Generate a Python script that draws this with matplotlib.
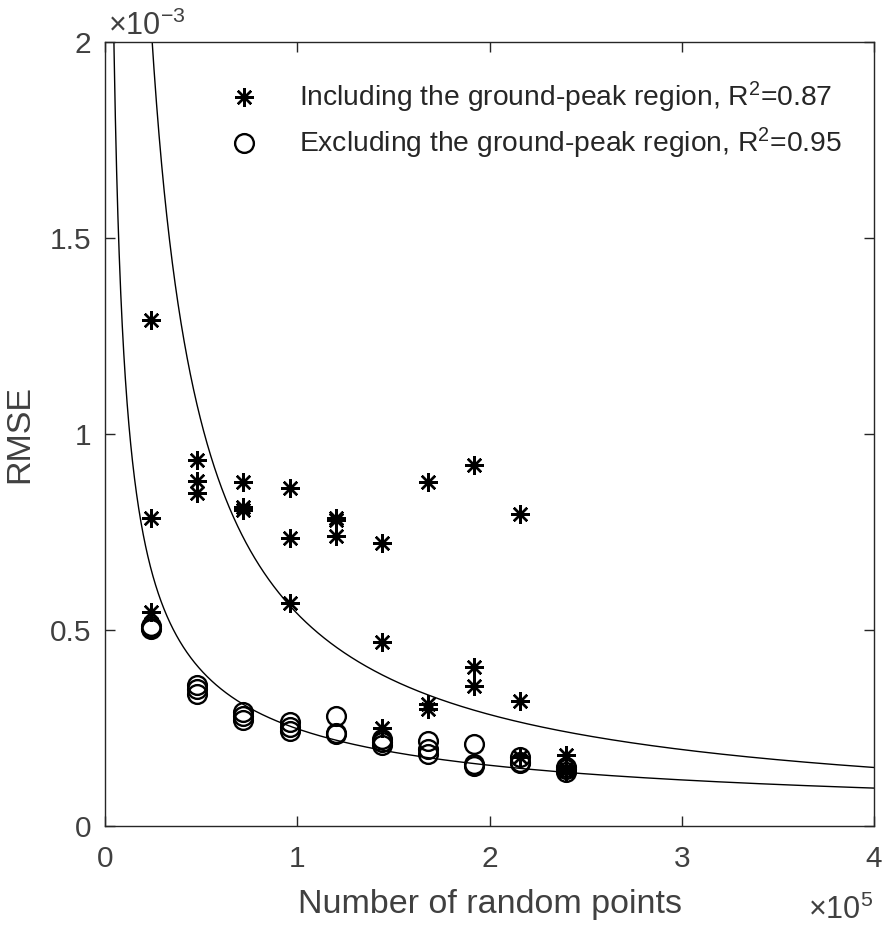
import numpy as np
import matplotlib
matplotlib.use('Agg')
import matplotlib.pyplot as plt

plt.rcParams['font.family'] = ['Liberation Sans', 'DejaVu Sans']
plt.rcParams['mathtext.fontset'] = 'custom'
plt.rcParams['mathtext.rm'] = 'Liberation Sans'
plt.rcParams['mathtext.it'] = 'Liberation Sans'

# number of random points (three runs each)
n_points = [24000, 48000, 72000, 96000, 120000, 144000, 168000, 192000, 216000, 240000]

# RMSE including the ground-peak region (x 1e-3)
rmse_incl = [
    [1.290, 0.785, 0.545],
    [0.935, 0.880, 0.850],
    [0.878, 0.814, 0.807],
    [0.862, 0.735, 0.570],
    [0.786, 0.781, 0.740],
    [0.723, 0.470, 0.250],
    [0.878, 0.310, 0.298],
    [0.921, 0.405, 0.356],
    [0.796, 0.318, 0.176],
    [0.181, 0.148, 0.140],
]

# RMSE excluding the ground-peak region (x 1e-3)
rmse_excl = [
    [0.510, 0.505, 0.503],
    [0.361, 0.349, 0.336],
    [0.290, 0.280, 0.270],
    [0.265, 0.252, 0.242],
    [0.280, 0.238, 0.234],
    [0.221, 0.213, 0.207],
    [0.216, 0.196, 0.183],
    [0.209, 0.158, 0.153],
    [0.176, 0.163, 0.160],
    [0.150, 0.145, 0.138],
]

# power-law fits  y = a * x^b
fit_incl = (24.2, -0.93)
fit_excl = (0.623, -0.68)
r2_incl = 0.87
r2_excl = 0.95

x_rep = np.repeat(n_points, 3)
y_incl = np.array(rmse_incl).ravel() * 1e-3
y_excl = np.array(rmse_excl).ravel() * 1e-3

fig = plt.figure(figsize=(8.86, 9.27), dpi=100)
ax = fig.add_axes([0.1185, 0.109, 0.868, 0.8454])

xx = np.linspace(1000, 4e5, 3000)
ax.plot(xx, fit_incl[0] * xx ** fit_incl[1], color='k', lw=1.0)
ax.plot(xx, fit_excl[0] * xx ** fit_excl[1], color='k', lw=1.0)

ax.plot(x_rep, y_incl, linestyle='none', marker=(8, 2, 0), markersize=13.5,
        markeredgewidth=1.7, color='k',
        label='Including the ground-peak region, R$^2$=%.2f' % r2_incl)
ax.plot(x_rep, y_excl, linestyle='none', marker='o', markersize=13.5,
        markeredgewidth=1.7, markerfacecolor='none', markeredgecolor='k',
        label='Excluding the ground-peak region, R$^2$=%.2f' % r2_excl)

ax.set_xlim(0, 4e5)
ax.set_ylim(0, 2e-3)
ax.set_xticks([0, 1e5, 2e5, 3e5, 4e5])
ax.set_xticklabels(['0', '1', '2', '3', '4'])
ax.set_yticks([0, 0.5e-3, 1e-3, 1.5e-3, 2e-3])
ax.set_yticklabels(['0', '0.5', '1', '1.5', '2'])

tc = '#404040'
ax.tick_params(direction='in', length=7, width=1, top=True, right=True,
               labelsize=21.5, colors='#262626', labelcolor=tc)
ax.tick_params(axis='x', pad=14)
ax.tick_params(axis='y', pad=10)
for s in ax.spines.values():
    s.set_color('#262626')
    s.set_linewidth(1)

ax.set_xlabel('Number of random points', fontsize=24.5, color=tc, labelpad=11)
ax.set_ylabel('RMSE', fontsize=24.5, color=tc, labelpad=10)

ax.text(0.004, 1.009, '×10$^{-3}$', transform=ax.transAxes, fontsize=22,
        color=tc, ha='left', va='baseline')
ax.text(0.999, -0.119, '×10$^{5}$', transform=ax.transAxes, fontsize=22,
        color=tc, ha='right', va='baseline')

leg = ax.legend(loc='upper left', bbox_to_anchor=(0.139, 0.966), frameon=False,
                fontsize=20.3, handletextpad=1.2, borderaxespad=0.0,
                labelspacing=0.38, handlelength=1.5)
for t in leg.get_texts():
    t.set_color('#262626')

fig.savefig('out.png', dpi=100)
